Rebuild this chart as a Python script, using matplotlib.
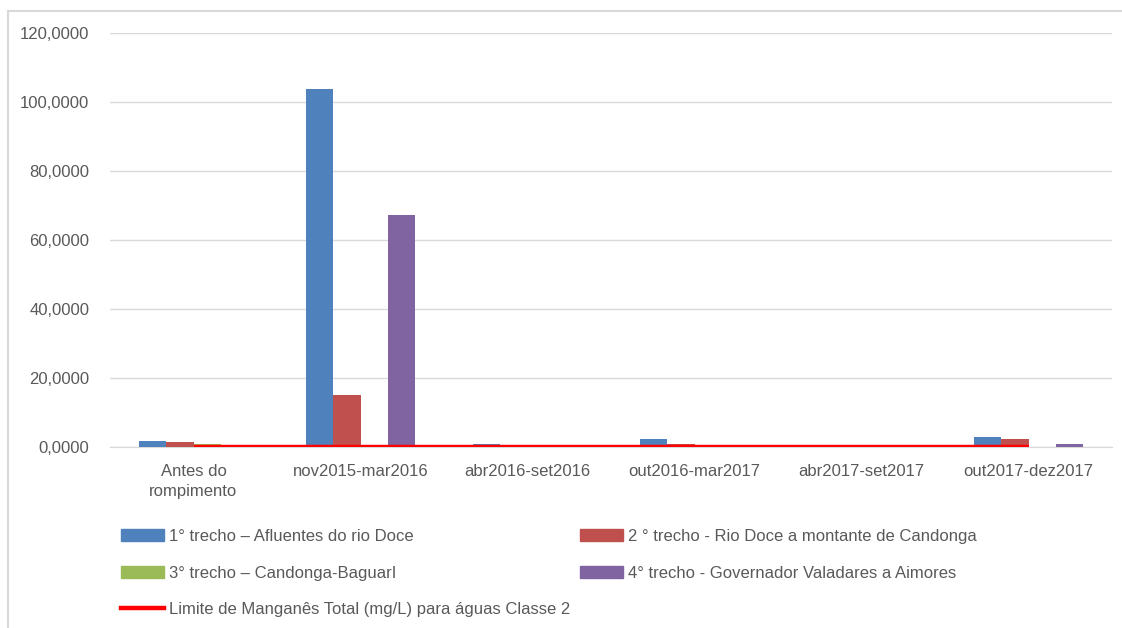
import numpy as np
import matplotlib
matplotlib.use('Agg')
import matplotlib.pyplot as plt
from matplotlib.lines import Line2D
from matplotlib.patches import Patch

# categorias e valores (mg/L)
categorias = ['Antes do\nrompimento', 'nov2015-mar2016', 'abr2016-set2016',
              'out2016-mar2017', 'abr2017-set2017', 'out2017-dez2017']
trecho1 = [1.6, 103.7, 0.8, 2.2, 0.1, 2.8]
trecho2 = [1.35, 15.1, 0.1, 1.0, 0.1, 2.2]
trecho3 = [1.0, 0.0, 0.0, 0.0, 0.0, 0.0]
trecho4 = [0.0, 67.2, 0.0, 0.0, 0.0, 0.8]
limite = [0.1, 0.1, 0.1, 0.1, 0.1, 0.1]

nomes = ['1° trecho – Afluentes do rio Doce',
         '2 ° trecho - Rio Doce a montante de Candonga',
         '3° trecho – Candonga-BaguarI',
         '4° trecho - Governador Valadares a Aimores']
nome_limite = 'Limite de Manganês Total (mg/L) para águas Classe 2'
cores = ['#4F81BD', '#C0504D', '#9BBB59', '#8064A2']

plt.rcParams['font.family'] = ['Liberation Sans', 'DejaVu Sans']
cinza = '#595959'

fig = plt.figure(figsize=(11.22, 6.28), dpi=100)
W, H = 1122, 628
ax = fig.add_axes([110 / W, 1 - 447 / H, (1112 - 110) / W, (447 - 33) / H])

x = np.arange(len(categorias))
larg = 0.162
series = [trecho1, trecho2, trecho3, trecho4]
for i, (s, c) in enumerate(zip(series, cores)):
    ax.bar(x + (i - 1.5) * larg, s, width=larg, color=c, zorder=2)

ax.plot(x, limite, color='#FF0000', linewidth=3.2, zorder=3, solid_capstyle='butt')

ax.set_xlim(-0.5, len(categorias) - 0.5)
ax.set_ylim(0, 120)
ax.set_yticks(np.arange(0, 121, 20))
ax.set_yticklabels([f'{v:.4f}'.replace('.', ',') for v in range(0, 121, 20)])
ax.set_xticks(x)
ax.set_xticklabels(categorias, linespacing=1.45)
ax.tick_params(axis='both', length=0, colors=cinza, labelsize=12)
ax.tick_params(axis='y', pad=15)
ax.tick_params(axis='x', pad=12)
ax.grid(axis='y', color='#D9D9D9', linewidth=1, zorder=0)
for lado in ['top', 'right', 'left']:
    ax.spines[lado].set_visible(False)
ax.spines['bottom'].set_color('#D9D9D9')
ax.spines['bottom'].set_zorder(1)

# legenda em duas colunas
h1 = [Patch(color=cores[0]), Patch(color=cores[2]),
      Line2D([], [], color='#FF0000', linewidth=3.2)]
l1 = [nomes[0], nomes[2], nome_limite]
h2 = [Patch(color=cores[1]), Patch(color=cores[3])]
l2 = [nomes[1], nomes[3]]
kw = dict(frameon=False, fontsize=12, handlelength=2.6, handleheight=0.75,
          handletextpad=0.3, labelspacing=1.3, loc='upper left',
          borderaxespad=0, borderpad=0, labelcolor=cinza)
fig.legend(h1, l1, bbox_to_anchor=(121 / W, 1 - 529 / H), **kw)
fig.legend(h2, l2, bbox_to_anchor=(580 / W, 1 - 529 / H), **kw)

# moldura
fig.add_artist(Line2D([8 / W, 8 / W], [0, 1 - 11 / H], color='#D9D9D9',
                      linewidth=1.5, transform=fig.transFigure))
fig.add_artist(Line2D([8 / W, 1], [1 - 11 / H, 1 - 11 / H], color='#D9D9D9',
                      linewidth=1.5, transform=fig.transFigure))

fig.savefig('out.png', dpi=100)
